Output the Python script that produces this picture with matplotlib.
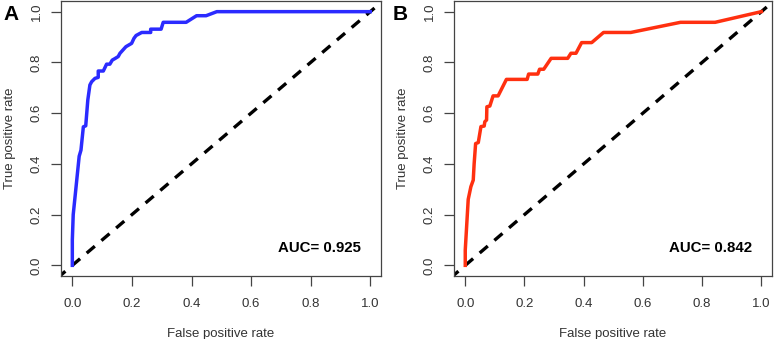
import matplotlib
matplotlib.use("Agg")
import matplotlib.pyplot as plt

plt.rcParams['font.family'] = ['Liberation Sans', 'DejaVu Sans']

# ROC curve A
fpr_a = [0.0, 0.0, 0.003, 0.010, 0.023, 0.029, 0.037, 0.045, 0.052, 0.059, 0.065,
         0.076, 0.087, 0.087, 0.104, 0.115, 0.126, 0.134, 0.143, 0.154, 0.160,
         0.180, 0.199, 0.207, 0.214, 0.233, 0.263, 0.263, 0.298, 0.305, 0.382,
         0.417, 0.449, 0.485, 1.0]
tpr_a = [0.0, 0.10, 0.20, 0.28, 0.43, 0.454, 0.546, 0.55, 0.652, 0.711, 0.724,
         0.737, 0.741, 0.766, 0.766, 0.793, 0.793, 0.809, 0.815, 0.823, 0.836,
         0.862, 0.875, 0.895, 0.906, 0.918, 0.918, 0.931, 0.931, 0.958, 0.958,
         0.984, 0.984, 1.0, 1.0]

# ROC curve B
fpr_b = [0.0, 0.0, 0.010, 0.019, 0.027, 0.030, 0.035, 0.044, 0.053, 0.064, 0.066,
         0.072, 0.073, 0.083, 0.094, 0.111, 0.139, 0.209, 0.214, 0.245, 0.251,
         0.265, 0.290, 0.346, 0.357, 0.374, 0.393, 0.427, 0.467, 0.559, 0.727,
         0.844, 1.0]
tpr_b = [0.0, 0.06, 0.26, 0.31, 0.336, 0.40, 0.48, 0.484, 0.547, 0.549, 0.566,
         0.573, 0.625, 0.628, 0.668, 0.668, 0.733, 0.733, 0.754, 0.754, 0.773,
         0.773, 0.816, 0.816, 0.836, 0.836, 0.878, 0.878, 0.918, 0.918, 0.958,
         0.958, 1.0]

auc_labels = ["AUC= 0.925", "AUC= 0.842"]
panel_labels = ["A", "B"]
colors = ["#2B2BFF", "#FF3010"]
ticks = [0.0, 0.2, 0.4, 0.6, 0.8, 1.0]
tick_labels = ["0.0", "0.2", "0.4", "0.6", "0.8", "1.0"]

W, H = 778, 339
fig = plt.figure(figsize=(W / 100, H / 100), dpi=100)

panels = [
    (61, 381, fpr_a, tpr_a, 3),
    (454, 772, fpr_b, tpr_b, 393),
]
top_px, bot_px = 1, 276
spine_col = "#444444"
text_col = "#333333"

for i, (l, r, fx, ty, lab_x) in enumerate(panels):
    ax = fig.add_axes([l / W, 1 - bot_px / H, (r - l) / W, (bot_px - top_px) / H])
    ax.set_xlim(-0.038, 1.036)
    ax.set_ylim(-0.042, 1.042)
    ax.plot([-0.1, 1.1], [-0.1, 1.1], color="black", lw=2.4,
            linestyle=(0, (3.2, 2.6)), dash_capstyle="butt")
    ax.plot(fx, ty, color=colors[i], lw=2.5, solid_joinstyle="round")
    ax.set_xticks(ticks)
    ax.set_xticklabels(tick_labels)
    ax.set_yticks(ticks)
    ax.set_yticklabels(tick_labels, rotation=90, va="center")
    ax.tick_params(axis="both", direction="out", length=7, width=0.9,
                   color=spine_col, labelcolor=text_col, labelsize=9.5)
    ax.tick_params(axis="x", pad=9)
    ax.tick_params(axis="y", pad=6)
    for s in ax.spines.values():
        s.set_color(spine_col)
        s.set_linewidth(0.9)
    ax.set_xlabel("False positive rate", fontsize=9.5, color=text_col, labelpad=13)
    ax.set_ylabel("True positive rate", fontsize=9.5, color=text_col, labelpad=11)
    ax.text(0.97, 0.068, auc_labels[i], fontsize=10.8, fontweight="bold",
            ha="right", va="center", color="black")
    fig.text(lab_x / W, 1 - 5 / H, panel_labels[i], fontsize=15, fontweight="bold",
             ha="left", va="top", color="black")

fig.savefig("out.png", dpi=100)
